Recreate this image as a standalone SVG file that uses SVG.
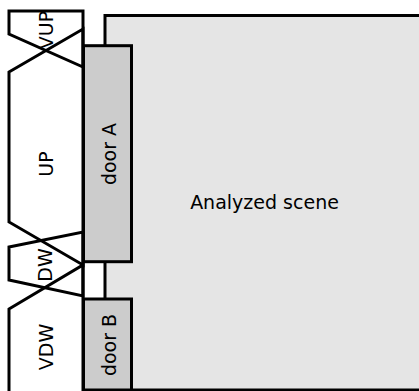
<svg xmlns="http://www.w3.org/2000/svg" width="419" height="391" viewBox="0 0 419 391">
<style>
.zone{fill:none;stroke:#000;stroke-width:3;stroke-linejoin:miter}
.scene{fill:#e5e5e5;stroke:#000;stroke-width:3}
.door{fill:#cccccc;stroke:#000;stroke-width:3}
text{font-family:"DejaVu Sans",sans-serif;font-size:19px;fill:#000;text-anchor:middle}
</style>
<rect width="419" height="391" fill="#fff"/>
<g id="scene">
<rect class="scene" x="105" y="15.5" width="400" height="374.5"/>
<text x="264.5" y="209">Analyzed scene</text>
</g>
<g id="zones">
<g id="VUP">
<polygon class="zone" points="9,11 83,11 83,67 9,34"/>
<text transform="translate(53,30) rotate(-90)">VUP</text>
</g>
<g id="UP">
<polygon class="zone" points="9,72 83,29 83,265 9,222"/>
<text transform="translate(53,164) rotate(-90)">UP</text>
</g>
<g id="DW">
<polygon class="zone" points="9,247 83,232 83,296 9,280"/>
<text transform="translate(52,265) rotate(-90)">DW</text>
</g>
<g id="VDW">
<polygon class="zone" points="9,309 83,265 83,395 9,395"/>
<text transform="translate(53,347) rotate(-90)">VDW</text>
</g>
</g>
<g id="doorA">
<rect class="door" x="83.5" y="45.7" width="48" height="216"/>
<text transform="translate(115.5,154) rotate(-90)">door A</text>
</g>
<g id="doorB">
<rect class="door" x="83.5" y="299" width="48" height="91"/>
<text transform="translate(115.5,345) rotate(-90)">door B</text>
</g>
</svg>
